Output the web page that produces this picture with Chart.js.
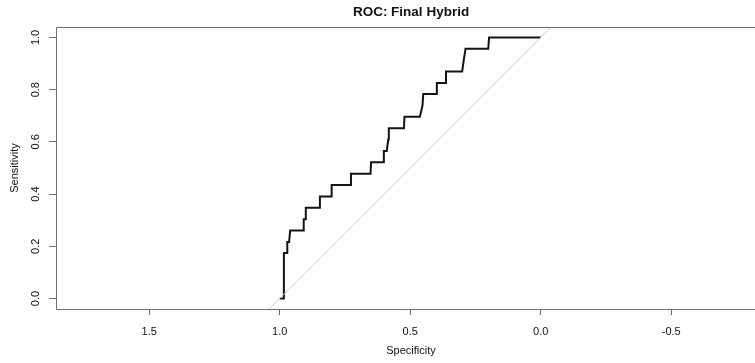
<!DOCTYPE html>
<html>
<head>
<meta charset="utf-8">
<script src="https://cdn.jsdelivr.net/npm/chart.js@4"></script>
<style>
  html, body { margin: 0; padding: 0; background: #fff; overflow: hidden; width: 755px; height: 363px; }
  #wrap { width: 755px; height: 363px; }
</style>
</head>
<body>
<div id="wrap"><canvas id="roc" width="755" height="363"></canvas></div>
<script>
// ROC curve vertices (specificity, sensitivity), from spec = 1 down to spec = 0
const specificity = [1.000, 0.984, 0.984, 0.971, 0.971, 0.964, 0.960, 0.910, 0.908, 0.900,
                     0.900, 0.846, 0.846, 0.801, 0.801, 0.727, 0.727, 0.652, 0.650, 0.601,
                     0.601, 0.590, 0.584, 0.582, 0.524, 0.522, 0.463, 0.453, 0.450, 0.401,
                     0.398, 0.363, 0.363, 0.301, 0.295, 0.288, 0.201, 0.198, 0.000];
const sensitivity = [0.000, 0.000, 0.174, 0.174, 0.217, 0.217, 0.261, 0.261, 0.304, 0.304,
                     0.348, 0.348, 0.391, 0.391, 0.435, 0.435, 0.478, 0.478, 0.522, 0.522,
                     0.565, 0.565, 0.609, 0.652, 0.652, 0.696, 0.696, 0.739, 0.783, 0.783,
                     0.826, 0.826, 0.870, 0.870, 0.913, 0.957, 0.957, 1.000, 1.000];

// chance diagonal (sensitivity = 1 - specificity) across the plotted range
const chanceSpec = [1.04, -0.04];
const chanceSens = [-0.04, 1.04];

// axis ticks and visible ranges (the plot region runs on past the right edge)
const xTicks = [1.5, 1.0, 0.5, 0.0, -0.5];
const yTicks = [0.0, 0.2, 0.4, 0.6, 0.8, 1.0];
const xRange = [-0.817, 1.857];
const xRegionEnd = -0.863;
const yRange = [-0.04, 1.04];

const titleText = 'ROC: Final Hybrid';
const xLabel = 'Specificity';
const yLabel = 'Sensitivity';

const FONT = '"Liberation Sans", Arial, Helvetica, sans-serif';
const AXIS_COLOR = '#6e6e6e';
const TEXT_COLOR = '#111';

const toPoints = (xs, ys) => xs.map((x, i) => ({ x: x, y: ys[i] }));

// frame, rotated y tick labels, axis titles and the main title
const rPlotExtras = {
  id: 'rPlotExtras',
  afterDraw(chart) {
    const { ctx, chartArea: a, scales } = chart;
    const L = Math.round(a.left) + 0.5, T = Math.round(a.top) + 0.5, B = Math.round(a.bottom) + 0.5;
    const R = chart.width;
    ctx.save();
    ctx.strokeStyle = AXIS_COLOR;
    ctx.lineWidth = 1;
    ctx.beginPath();
    ctx.moveTo(L, T); ctx.lineTo(R, T);
    ctx.moveTo(L, T); ctx.lineTo(L, B);
    ctx.moveTo(L, B); ctx.lineTo(R, B);
    ctx.stroke();

    // y tick labels, written parallel to the axis
    const ys = scales.y;
    ctx.fillStyle = TEXT_COLOR;
    ctx.font = '11px ' + FONT;
    ctx.textAlign = 'center';
    ctx.textBaseline = 'middle';
    ys.ticks.forEach(t => {
      const py = ys.getPixelForValue(t.value);
      ctx.save();
      ctx.translate(36, py);
      ctx.rotate(-Math.PI / 2);
      ctx.fillText(t.value.toFixed(1), 0, 0);
      ctx.restore();
    });

    // the full plot region ends slightly beyond the canvas; centre titles on it
    const regionRight = scales.x.getPixelForValue(xRegionEnd);
    const cx = (a.left + regionRight) / 2;
    const cy = (a.top + a.bottom) / 2;

    ctx.fillText(xLabel, cx, 351);
    ctx.save();
    ctx.translate(15, cy);
    ctx.rotate(-Math.PI / 2);
    ctx.fillText(yLabel, 0, 0);
    ctx.restore();

    ctx.font = 'bold 13.5px ' + FONT;
    ctx.fillText(titleText, cx, 12);
    ctx.restore();
  }
};

new Chart(document.getElementById('roc'), {
  type: 'line',
  data: {
    datasets: [
      {
        label: 'chance',
        data: toPoints(chanceSpec, chanceSens),
        borderColor: '#cbcbcb',
        borderWidth: 1,
        pointRadius: 0,
        tension: 0
      },
      {
        label: 'Final Hybrid',
        data: toPoints(specificity, sensitivity),
        borderColor: '#141414',
        borderWidth: 2,
        pointRadius: 0,
        tension: 0
      }
    ]
  },
  options: {
    responsive: false,
    animation: false,
    devicePixelRatio: 1,
    layout: { padding: { top: 27, left: 0, right: 1, bottom: 0 } },
    plugins: {
      legend: { display: false },
      title: { display: false },
      tooltip: { enabled: false }
    },
    scales: {
      x: {
        type: 'linear',
        reverse: true,
        min: xRange[0],
        max: xRange[1],
        afterBuildTicks: s => { s.ticks = xTicks.map(v => ({ value: v })); },
        afterFit: s => { s.height = 54; },
        border: { display: false },
        grid: { drawOnChartArea: false, drawTicks: true, tickLength: 6, color: AXIS_COLOR },
        ticks: {
          autoSkip: false,
          maxRotation: 0,
          padding: 10,
          color: TEXT_COLOR,
          font: { family: FONT, size: 11 },
          callback: v => Number(v).toFixed(1)
        },
        title: { display: false }
      },
      y: {
        type: 'linear',
        min: yRange[0],
        max: yRange[1],
        afterBuildTicks: s => { s.ticks = yTicks.map(v => ({ value: v })); },
        afterFit: s => { s.width = 56; },
        border: { display: false },
        grid: { drawOnChartArea: false, drawTicks: true, tickLength: 7, color: AXIS_COLOR },
        ticks: { display: false },
        title: { display: false }
      }
    }
  },
  plugins: [rPlotExtras]
});
</script>
</body>
</html>
